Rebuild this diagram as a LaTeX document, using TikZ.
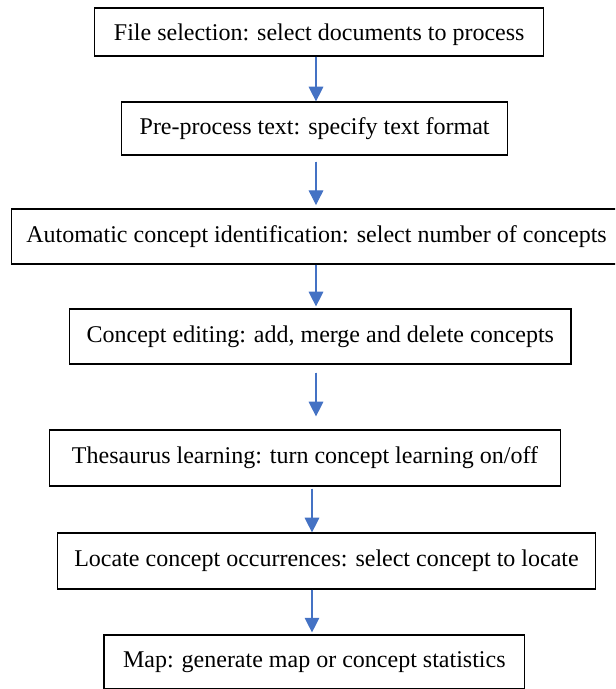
\documentclass[tikz,border=0pt]{standalone}
\usepackage{fontspec}
\setmainfont{Liberation Serif}
\usepackage{xcolor}
\usepackage{tikz}
\usetikzlibrary{arrows.meta,positioning,calc}
\definecolor{flowblue}{HTML}{4472C4}
\tikzset{
  stagebox/.style={draw=black, line width=0.9pt, fill=white, inner sep=4pt,
                   font=\fontsize{18}{21.6}\selectfont, text centered},
  flowarrow/.style={-{Triangle[width=11pt,length=11pt]}, draw=flowblue,
                    fill=flowblue, line width=0.8pt}
}
\begin{document}
\begin{tikzpicture}[x=0.75pt, y=-0.75pt]
    \useasboundingbox (0,0) rectangle (615,689);
    \clip (0,0) rectangle (615,689);
    \coordinate (axL) at (316,0);
    \coordinate (axR) at (312,0);

    % stages
    \node[stagebox, minimum width=336.5pt, minimum height=36pt, text depth=0pt] (sel) at (319.2,32) {File selection: select documents to process};
    \node[stagebox, minimum width=289.8pt, minimum height=39.75pt] (pre)  at (314.6,128.5) {Pre-process text: specify text format};
    \node[stagebox, minimum width=458pt,   minimum height=41.25pt] (auto) at (316.5,236.5) {Automatic concept identification: select number of concepts};
    \node[stagebox, minimum width=375.9pt, minimum height=41.25pt] (edit) at (320.3,336.5) {Concept editing: add, merge and delete concepts};
    \node[stagebox, minimum width=383.5pt, minimum height=42pt]    (thes) at (305,458)     {Thesaurus learning: turn concept learning on/off};
    \node[stagebox, minimum width=403.5pt, minimum height=42pt]    (loc)  at (326.5,561)   {Locate concept occurrences: select concept to locate};
    \node[stagebox, minimum width=315.5pt, minimum height=40.1pt]  (map)  at (314.3,661.75) {Map: generate map or concept statistics};

    % arrows
    \draw[flowarrow] (sel.south -| axL) -- (pre.north -| axL);
    \draw[flowarrow, shorten <=4.5pt, shorten >=2.5pt] (pre.south -| axL) -- (auto.north -| axL);
    \draw[flowarrow, shorten >=1.5pt] (auto.south -| axL) -- (edit.north -| axL);
    \draw[flowarrow, shorten <=6pt, shorten >=9.75pt] (edit.south -| axL) -- (thes.north -| axL);
    \draw[flowarrow, shorten <=1.5pt] (thes.south -| axR) -- (loc.north -| axR);
    \draw[flowarrow, shorten >=1.5pt] (loc.south -| axR) -- (map.north -| axR);
\end{tikzpicture}
\end{document}
